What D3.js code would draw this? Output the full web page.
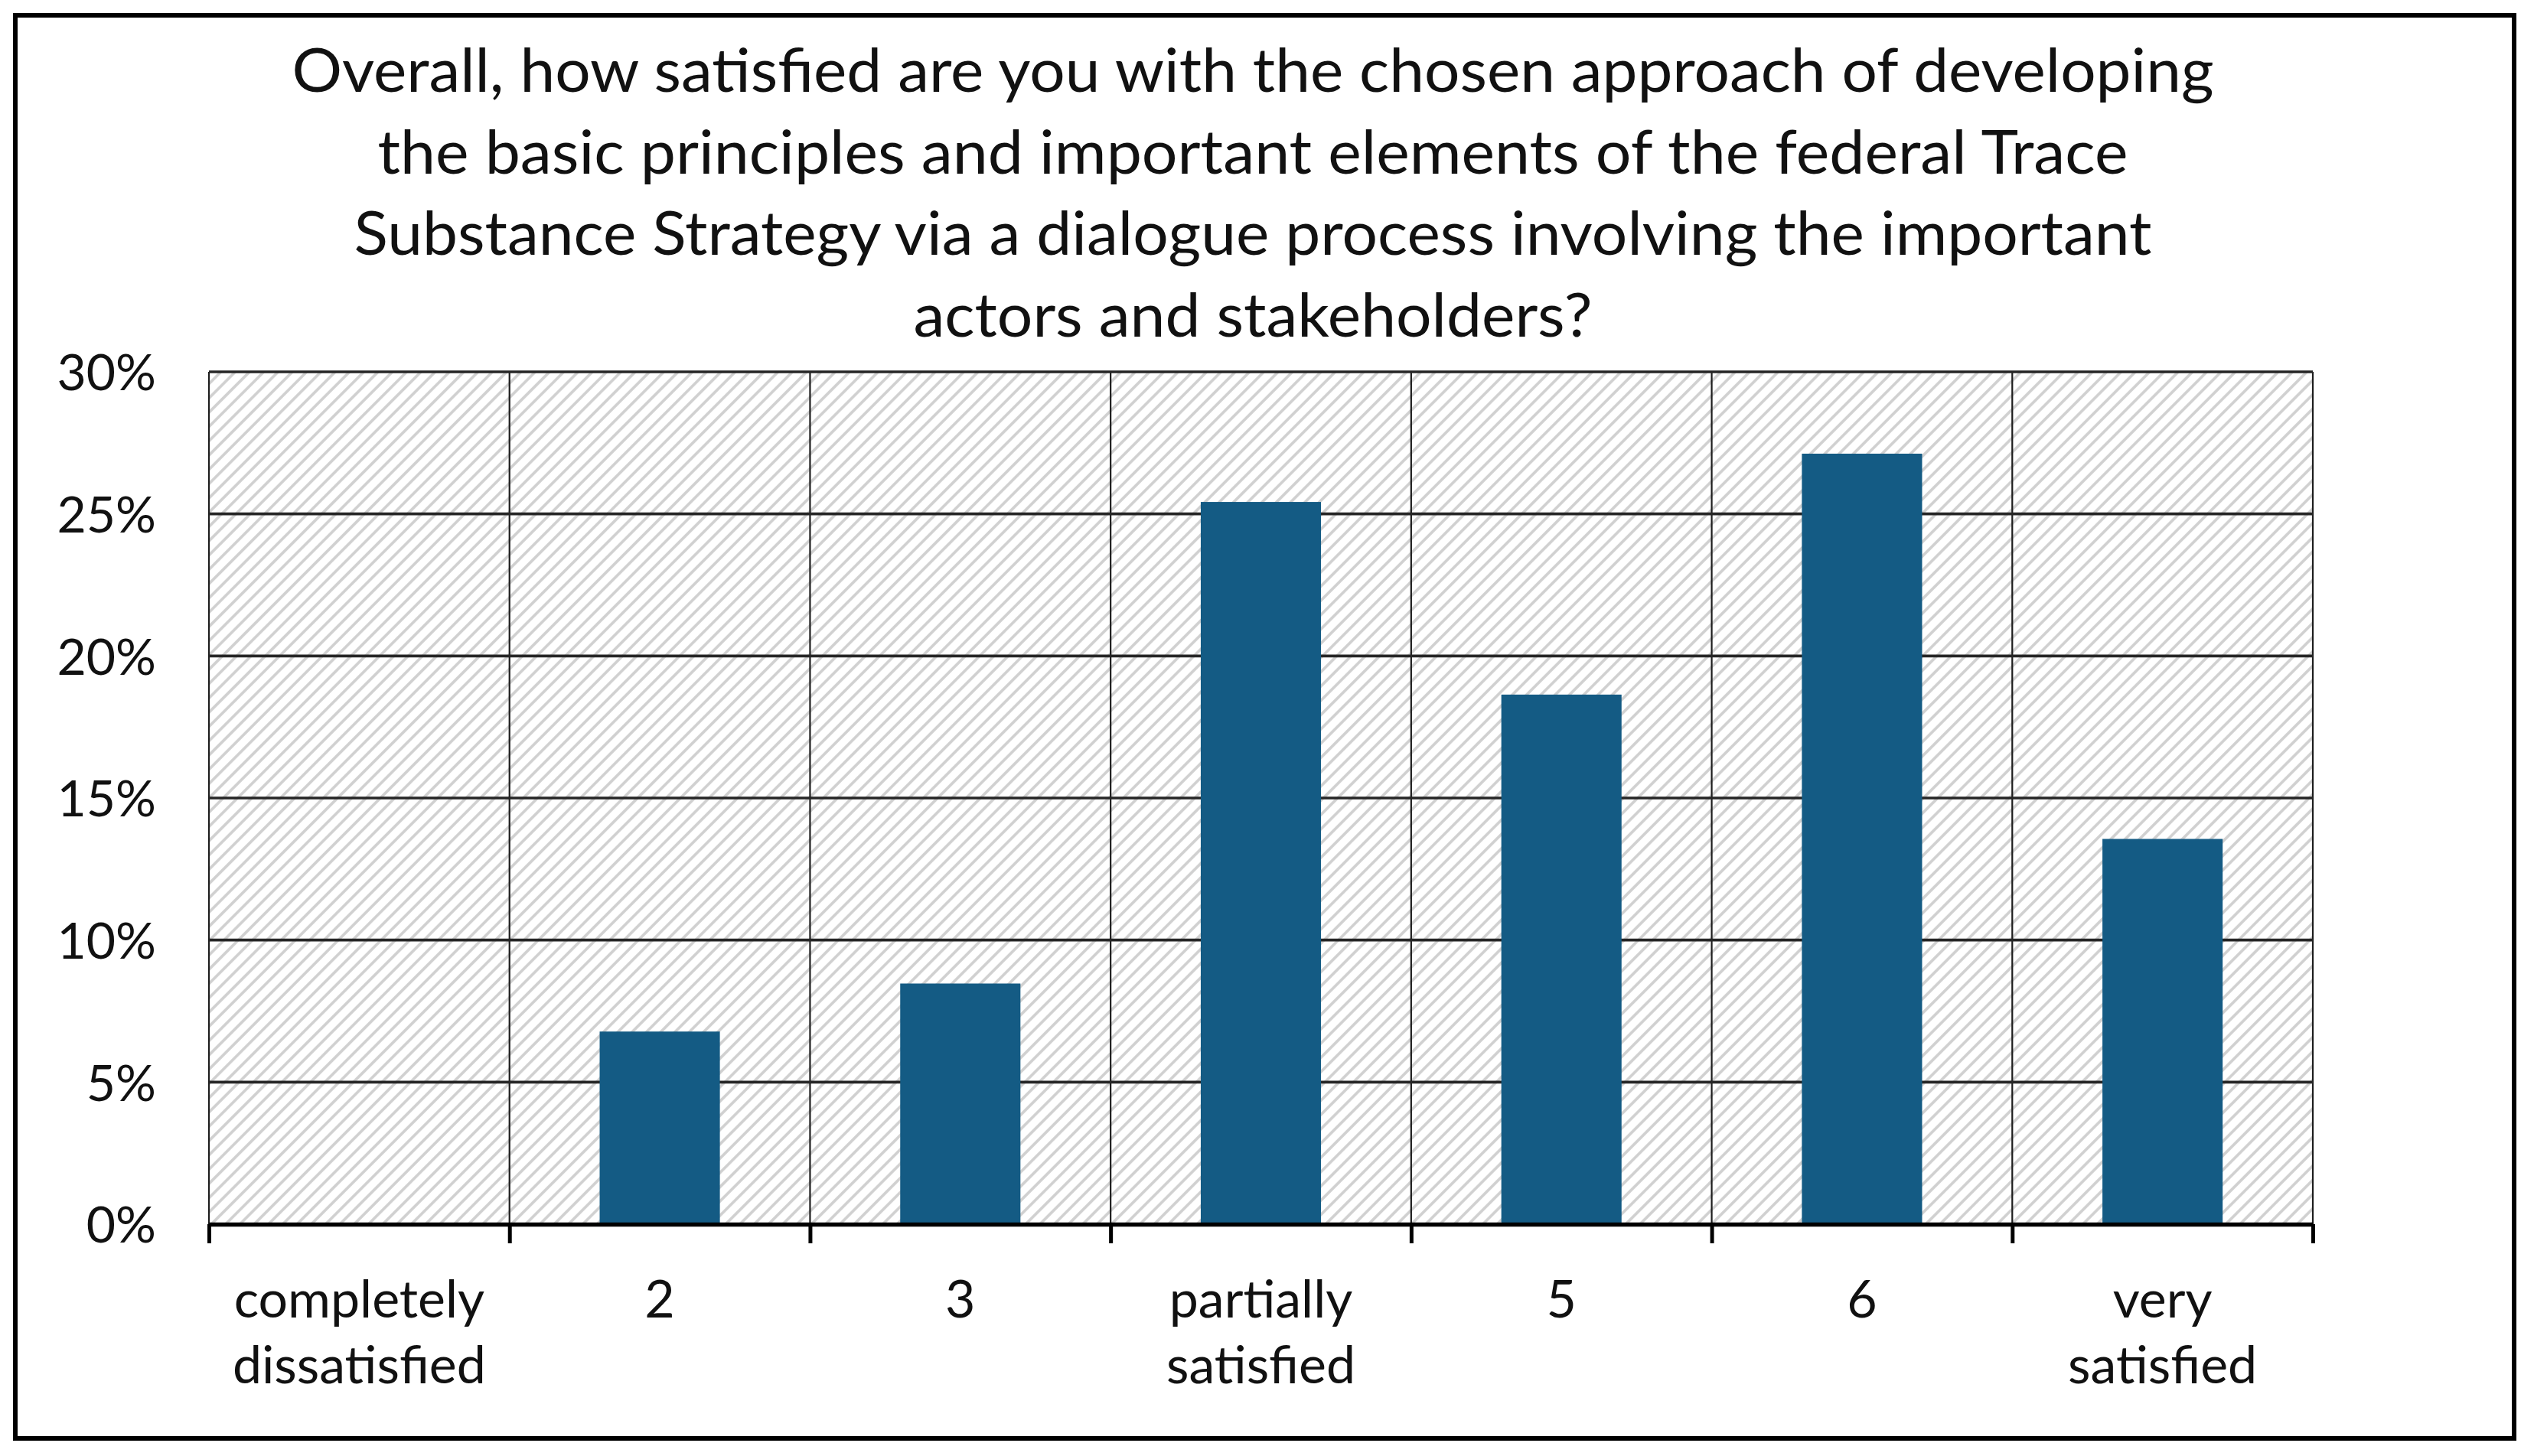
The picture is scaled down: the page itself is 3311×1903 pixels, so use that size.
<!DOCTYPE html>
<html>
<head>
<meta charset="utf-8">
<script src="https://cdn.jsdelivr.net/npm/d3@7"></script>
<style>
  html, body { margin: 0; padding: 0; background: #ffffff; }
  svg { display: block; }
  text { font-family: Lato, "Open Sans", sans-serif; fill: #111; }
</style>
</head>
<body>
<svg id="chart" width="3311" height="1903"></svg>
<script>
// ---- data ----
const categories = [
  ["completely", "dissatisfied"],
  ["2"],
  ["3"],
  ["partially", "satisfied"],
  ["5"],
  ["6"],
  ["very", "satisfied"]
];
const values = [0, 0.0678, 0.0847, 0.2542, 0.1864, 0.2712, 0.1356];
const yTicks = [0, 0.05, 0.10, 0.15, 0.20, 0.25, 0.30];
const titleLines = [
  "Overall, how satisfied are you with the chosen approach of developing",
  "the basic principles and important elements of the federal Trace",
  "Substance Strategy via a dialogue process involving the important",
  "actors and stakeholders?"
];
const titleWidths = [2511, 2287, 2349, 887];

// ---- layout ----
const plot = { left: 273, right: 3022, top: 486, bottom: 1600 };
const svg = d3.select("#chart");

// outer frame
svg.append("rect")
  .attr("x", 20).attr("y", 20)
  .attr("width", 3265).attr("height", 1860)
  .attr("fill", "#ffffff").attr("stroke", "#000").attr("stroke-width", 6);

// hatch pattern
const defs = svg.append("defs");
const pat = defs.append("pattern")
  .attr("id", "hatch")
  .attr("patternUnits", "userSpaceOnUse")
  .attr("width", 13.2).attr("height", 13.2)
  .attr("patternTransform", "rotate(45)");
pat.append("rect").attr("width", 13.2).attr("height", 13.2).attr("fill", "#ffffff");
pat.append("line")
  .attr("x1", 6.6).attr("y1", 0).attr("x2", 6.6).attr("y2", 13.2)
  .attr("stroke", "#d0d0d0").attr("stroke-width", 3.6);

// scales
const xCat = d3.scaleBand()
  .domain(d3.range(categories.length))
  .range([plot.left, plot.right])
  .paddingInner(0).paddingOuter(0);
const xBar = d3.scaleBand()
  .domain(d3.range(categories.length))
  .range([plot.left, plot.right])
  .paddingInner(0.6).paddingOuter(0.3);
const y = d3.scaleLinear()
  .domain([0, 0.30])
  .range([plot.bottom, plot.top]);

// plot background
svg.append("rect")
  .attr("x", plot.left).attr("y", plot.top)
  .attr("width", plot.right - plot.left)
  .attr("height", plot.bottom - plot.top)
  .attr("fill", "url(#hatch)");

// vertical gridlines at category boundaries
const bounds = d3.range(categories.length + 1).map(i => plot.left + i * xCat.step());
svg.append("g").selectAll("line").data(bounds).join("line")
  .attr("x1", d => d).attr("x2", d => d)
  .attr("y1", plot.top).attr("y2", plot.bottom)
  .attr("stroke", "#1e1e1e").attr("stroke-width", 2.2);

// horizontal gridlines
svg.append("g").selectAll("line").data(yTicks.filter(t => t > 0)).join("line")
  .attr("x1", plot.left).attr("x2", plot.right)
  .attr("y1", d => y(d)).attr("y2", d => y(d))
  .attr("stroke", "#262626").attr("stroke-width", 3.6);

// bars
svg.append("g").selectAll("rect").data(values).join("rect")
  .attr("x", (d, i) => xBar(i))
  .attr("width", xBar.bandwidth())
  .attr("y", d => y(d))
  .attr("height", d => y(0) - y(d))
  .attr("fill", "#145b84");

// x axis baseline + ticks
const xAxis = d3.axisBottom(d3.scaleLinear().domain([0, categories.length]).range([plot.left, plot.right]))
  .tickValues(d3.range(categories.length + 1))
  .tickSize(25)
  .tickSizeOuter(0)
  .tickFormat("");
const gx = svg.append("g")
  .attr("transform", `translate(0,${plot.bottom})`)
  .call(xAxis);
gx.select(".domain").attr("stroke", "#000").attr("stroke-width", 5.5);
gx.selectAll(".tick line").attr("stroke", "#000").attr("stroke-width", 5);

// y axis labels
const yAxis = d3.axisLeft(y)
  .tickValues(yTicks)
  .tickSize(0)
  .tickPadding(69)
  .tickFormat(d3.format(".0%"));
const gy = svg.append("g")
  .attr("transform", `translate(${plot.left},0)`)
  .call(yAxis);
gy.select(".domain").remove();
gy.selectAll(".tick text")
  .attr("font-size", 66)
  .attr("font-family", "Lato, 'Open Sans', sans-serif")
  .attr("fill", "#111")
  .attr("dy", "0.36em");

// x category labels
const xl = svg.append("g");
categories.forEach((lines, i) => {
  const cx = xCat(i) + xCat.bandwidth() / 2;
  lines.forEach((ln, j) => {
    xl.append("text")
      .attr("x", cx)
      .attr("y", 1722 + j * 86)
      .attr("text-anchor", "middle")
      .attr("font-size", 68)
      .text(ln);
  });
});

// title
const tg = svg.append("g");
titleLines.forEach((ln, j) => {
  tg.append("text")
    .attr("x", 1637)
    .attr("y", 120 + j * 106.7)
    .attr("text-anchor", "middle")
    .attr("font-size", 80)
    .attr("textLength", titleWidths[j])
    .attr("lengthAdjust", "spacingAndGlyphs")
    .text(ln);
});
</script>
</body>
</html>
